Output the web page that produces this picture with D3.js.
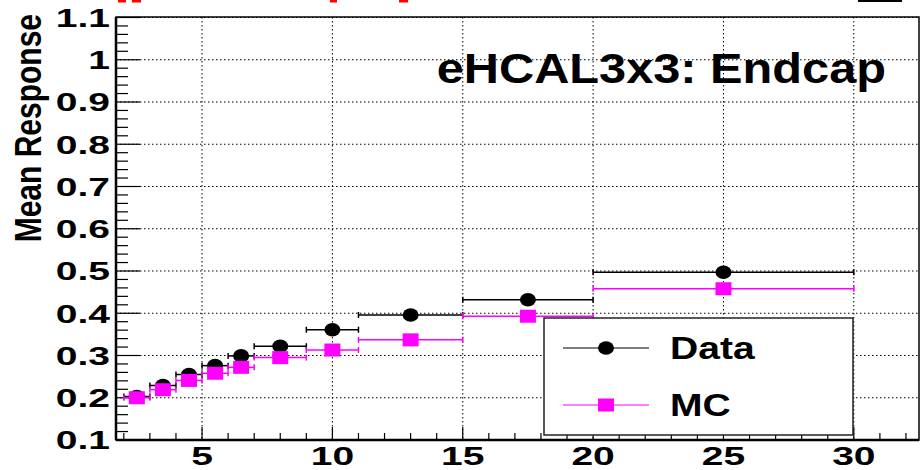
<!DOCTYPE html>
<html>
<head>
<meta charset="utf-8">
<script src="https://cdn.jsdelivr.net/npm/d3@7"></script>
<style>
  body { margin: 0; background: #fff; }
  text { font-family: "Liberation Sans", Arial, sans-serif; font-weight: bold; }
</style>
</head>
<body>
<svg id="chart"></svg>
<script>
const width = 922;
const height = 470;

// bin centres and half-widths (GeV)
const binCentres = [2.5, 3.5, 4.5, 5.5, 6.5, 8, 10, 13, 17.5, 25];
const binHalfWidths = [0.5, 0.5, 0.5, 0.5, 0.5, 1, 1, 2, 2.5, 5];
const dataResponse = [0.203, 0.229, 0.255, 0.276, 0.299, 0.322, 0.361, 0.396, 0.432, 0.497];
const mcResponse = [0.200, 0.219, 0.241, 0.258, 0.272, 0.295, 0.313, 0.337, 0.393, 0.458];

const xTicks = [5, 10, 15, 20, 25, 30];
const yTicks = [0.1, 0.2, 0.3, 0.4, 0.5, 0.6, 0.7, 0.8, 0.9, 1, 1.1];

const frame = { left: 116, right: 919, top: 17, bottom: 440 };

const svg = d3.select("#chart").attr("width", width).attr("height", height);

const x = d3.scaleLinear().domain([1.7, 32.5]).range([frame.left, frame.right]);
const y = d3.scaleLinear().domain([0.1, 1.1]).range([frame.bottom, frame.top + 0.5]);

// cut-off bits of the title above the pad
const topBits = [[118, 8], [132, 9], [330, 7], [399, 9]];
svg.selectAll(".topbit").data(topBits).enter().append("rect")
  .attr("x", (d) => d[0]).attr("y", 0).attr("width", (d) => d[1]).attr("height", 2.5)
  .attr("fill", "#ff0000");
svg.append("rect").attr("x", 858).attr("y", 0).attr("width", 44).attr("height", 2)
  .attr("fill", "#000");

// grid
const grid = svg.append("g").attr("stroke", "#000").attr("stroke-width", 1)
  .attr("stroke-dasharray", "1.5,2.5");
grid.selectAll(".gx").data(xTicks).enter().append("line")
  .attr("x1", (d) => x(d)).attr("x2", (d) => x(d))
  .attr("y1", frame.top).attr("y2", frame.bottom);
grid.selectAll(".gy").data(yTicks.slice(1)).enter().append("line")
  .attr("x1", frame.left).attr("x2", frame.right)
  .attr("y1", (d) => y(d)).attr("y2", (d) => y(d));

// ticks (inside the frame, ROOT style)
const yMinor = d3.range(0.1, 1.1001, 0.02);
svg.append("g").selectAll("line").data(yMinor).enter().append("line")
  .attr("x1", frame.left)
  .attr("x2", (d, i) => frame.left + (i % 5 === 0 ? 24 : 12))
  .attr("y1", (d) => y(d)).attr("y2", (d) => y(d))
  .attr("stroke", "#000").attr("stroke-width", 1.2);

const xMinor = d3.range(2, 33, 1);
svg.append("g").selectAll("line").data(xMinor).enter().append("line")
  .attr("x1", (d) => x(d)).attr("x2", (d) => x(d))
  .attr("y1", frame.bottom)
  .attr("y2", (d) => frame.bottom - (d % 5 === 0 ? 13 : 7))
  .attr("stroke", "#000").attr("stroke-width", 1.2);

// frame
svg.append("rect")
  .attr("x", frame.left).attr("y", frame.top)
  .attr("width", frame.right - frame.left).attr("height", frame.bottom - frame.top)
  .attr("fill", "none").attr("stroke", "#000").attr("stroke-width", 1.5);
svg.append("line").attr("x1", frame.left).attr("x2", frame.left)
  .attr("y1", frame.top).attr("y2", frame.bottom).attr("stroke", "#000").attr("stroke-width", 2.5);
svg.append("line").attr("x1", frame.left).attr("x2", frame.right)
  .attr("y1", frame.bottom).attr("y2", frame.bottom).attr("stroke", "#000").attr("stroke-width", 2.5);

// tick labels, stretched horizontally like the original
const fmt = (d) => (d === 1 ? "1" : d3.format(".1f")(d));
svg.selectAll(".ylab").data(yTicks).enter().append("g")
  .attr("transform", (d) => `translate(110, ${y(d)}) scale(1.5, 1)`)
  .append("text").attr("text-anchor", "end").attr("dy", "0.36em")
  .attr("font-size", 26).text(fmt);

svg.selectAll(".xlab").data(xTicks).enter().append("g")
  .attr("transform", (d) => `translate(${x(d)}, 465) scale(1.5, 1)`)
  .append("text").attr("text-anchor", "middle")
  .attr("font-size", 26).text((d) => d);

// axis title (glyphs widened across the page like the rest)
svg.append("text")
  .attr("transform", "translate(41, 14) rotate(-90) scale(1, 1.22)")
  .attr("text-anchor", "end").attr("font-size", 30)
  .text("Mean Response");

// plot title
svg.append("g").attr("transform", "translate(886, 83) scale(1.16, 1)")
  .append("text").attr("text-anchor", "end").attr("font-size", 42)
  .text("eHCAL3x3: Endcap");

// series
const points = binCentres.map((c, i) => ({
  c, hw: binHalfWidths[i], data: dataResponse[i], mc: mcResponse[i]
}));

function drawSeries(key, colour, marker) {
  const g = svg.append("g");
  g.selectAll(".bar").data(points).enter().append("line")
    .attr("x1", (d) => x(d.c - d.hw)).attr("x2", (d) => x(d.c + d.hw))
    .attr("y1", (d) => y(d[key])).attr("y2", (d) => y(d[key]))
    .attr("stroke", colour).attr("stroke-width", 1.5);
  g.selectAll(".capl").data(points).enter().append("line")
    .attr("x1", (d) => x(d.c - d.hw)).attr("x2", (d) => x(d.c - d.hw))
    .attr("y1", (d) => y(d[key]) - 3).attr("y2", (d) => y(d[key]) + 3)
    .attr("stroke", colour).attr("stroke-width", 1.5);
  g.selectAll(".capr").data(points).enter().append("line")
    .attr("x1", (d) => x(d.c + d.hw)).attr("x2", (d) => x(d.c + d.hw))
    .attr("y1", (d) => y(d[key]) - 3).attr("y2", (d) => y(d[key]) + 3)
    .attr("stroke", colour).attr("stroke-width", 1.5);
  if (marker === "circle") {
    g.selectAll(".m").data(points).enter().append("ellipse")
      .attr("cx", (d) => x(d.c)).attr("cy", (d) => y(d[key]))
      .attr("rx", 8).attr("ry", 6.8).attr("fill", colour);
  } else {
    g.selectAll(".m").data(points).enter().append("rect")
      .attr("x", (d) => x(d.c) - 8).attr("y", (d) => y(d[key]) - 6.5)
      .attr("width", 16).attr("height", 13).attr("fill", colour);
  }
}
drawSeries("data", "#000", "circle");
drawSeries("mc", "#ff00ff", "square");

// legend
const legend = svg.append("g");
legend.append("rect")
  .attr("x", 544).attr("y", 318).attr("width", 309).attr("height", 117)
  .attr("fill", "#fff").attr("stroke", "#222").attr("stroke-width", 1.5);
const legendItems = [
  { label: "Data", colour: "#000", marker: "circle", yy: 348 },
  { label: "MC", colour: "#ff00ff", marker: "square", yy: 405 }
];
legendItems.forEach((it) => {
  legend.append("line").attr("x1", 563).attr("x2", 649)
    .attr("y1", it.yy).attr("y2", it.yy)
    .attr("stroke", it.colour).attr("stroke-width", 1.2);
  if (it.marker === "circle") {
    legend.append("ellipse").attr("cx", 606).attr("cy", it.yy)
      .attr("rx", 8).attr("ry", 6.8).attr("fill", it.colour);
  } else {
    legend.append("rect").attr("x", 598).attr("y", it.yy - 6.5)
      .attr("width", 16).attr("height", 13).attr("fill", it.colour);
  }
  legend.append("g").attr("transform", `translate(670, ${it.yy + 11}) scale(1.26, 1)`)
    .append("text").attr("font-size", 31).text(it.label);
});
</script>
</body>
</html>
